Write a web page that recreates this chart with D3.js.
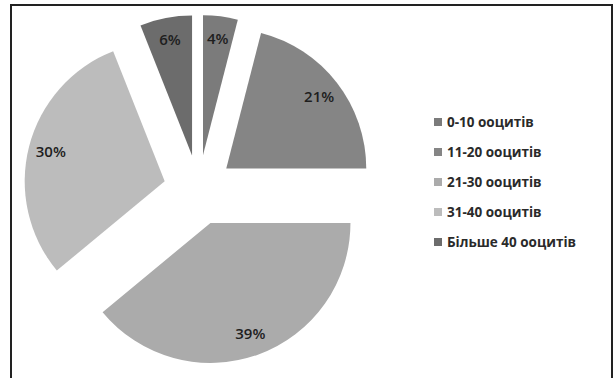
<!DOCTYPE html>
<html>
<head>
<meta charset="utf-8">
<script src="https://cdn.jsdelivr.net/npm/d3@7"></script>
<style>
  body { margin: 0; background: #fff; }
  svg { display: block; }
</style>
</head>
<body>
<div id="chart"></div>
<script>
let categories = ['0-10 ооцитів', '11-20 ооцитів', '21-30 ооцитів', '31-40 ооцитів', 'Більше 40 ооцитів'];
let values = [4, 21, 39, 30, 6];
let labels = ['4%', '21%', '39%', '30%', '6%'];
let colors = ['#7b7b7b', '#858585', '#ababab', '#bcbcbc', '#6c6c6c'];

let width = 615, height = 378;
let svg = d3.select('#chart').append('svg').attr('width', width).attr('height', height);

// frame (bottom edge is cut off in the original)
svg.append('path')
    .attr('d', `M11,${height} V5 H612 V${height}`)
    .attr('fill', 'none')
    .attr('stroke', '#222')
    .attr('stroke-width', 2);

let cx = 198.6, cy = 190, r = 140, explode = 35;

let pie = d3.pie().sort(null).value(d => d)(values);
let arc = d3.arc().innerRadius(0).outerRadius(r);
let labelArc = d3.arc().innerRadius(r * 0.84).outerRadius(r * 0.84);

let g = svg.append('g').attr('transform', `translate(${cx},${cy})`);

let slices = g.selectAll('g.slice')
    .data(pie)
    .join('g')
    .attr('class', 'slice')
    .attr('transform', d => {
        let a = (d.startAngle + d.endAngle) / 2;
        return `translate(${explode * Math.sin(a)},${-explode * Math.cos(a)})`;
    });

slices.append('path')
    .attr('d', arc)
    .attr('fill', (d, i) => colors[i]);

slices.append('text')
    .attr('transform', d => `translate(${labelArc.centroid(d)})`)
    .attr('text-anchor', 'middle')
    .attr('dy', '0.35em')
    .attr('font-family', 'Open Sans, sans-serif')
    .attr('font-weight', 600)
    .attr('font-size', 15)
    .attr('fill', '#1e1e1e')
    .text((d, i) => labels[i]);

// legend
let legend = svg.append('g').attr('transform', 'translate(434,122)');
let rows = legend.selectAll('g')
    .data(categories)
    .join('g')
    .attr('transform', (d, i) => `translate(0,${i * 30})`);

rows.append('rect')
    .attr('x', 0).attr('y', -4)
    .attr('width', 8).attr('height', 8)
    .attr('fill', (d, i) => colors[i]);

rows.append('text')
    .attr('x', 13)
    .attr('dy', '0.35em')
    .attr('font-family', 'Open Sans, sans-serif')
    .attr('font-weight', 'bold')
    .attr('font-size', 13.5)
    .attr('fill', '#2a2a2a')
    .text(d => d);
</script>
</body>
</html>
